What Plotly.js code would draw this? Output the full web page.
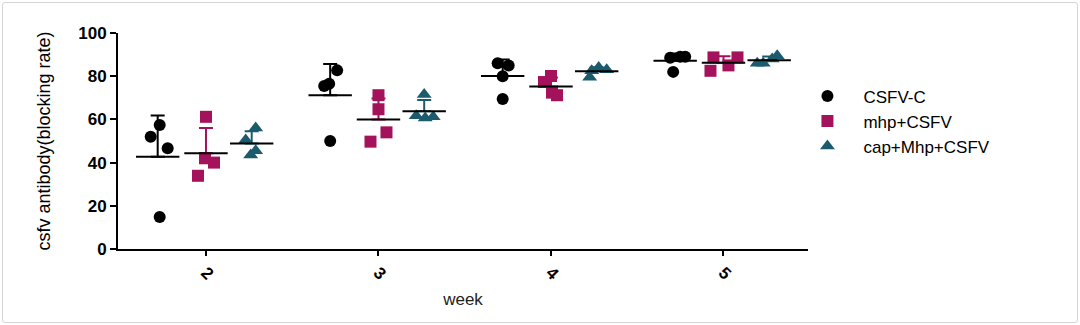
<!DOCTYPE html>
<html>
<head>
<meta charset="utf-8">
<script src="https://cdn.plot.ly/plotly-3.0.1.min.js"></script>
<style>
  html, body { margin: 0; padding: 0; background: #fff; }
  #wrap { position: relative; width: 1080px; height: 325px; }
  #chart { width: 1080px; height: 325px; }
  #frame { position: absolute; left: 2px; top: 2px; width: 1074px; height: 319px;
           border: 1px solid #d4d4d4; border-radius: 3px; pointer-events: none; }
</style>
</head>
<body>
<div id="wrap"><div id="chart"></div><div id="frame"></div></div>
<script>
// ---- data ----
const weeks = [2, 3, 4, 5];
const tickLabels = ["2", "3", "4", "5"];
const seriesNames = ["CSFV-C", "mhp+CSFV", "cap+Mhp+CSFV"];

// individual animals per week (blocking rate, %)
const csfvC      = [[57.4, 52.0, 46.6, 14.8], [82.7, 76.5, 75.5, 50.0], [86.0, 85.0, 80.0, 69.4], [88.5, 89.0, 89.0, 82.0]];
const mhpCSFV    = [[61.2, 42.0, 40.0, 33.9], [71.2, 64.7, 54.0, 49.7], [80.1, 77.3, 72.4, 71.2], [88.7, 88.7, 82.5, 85.0]];
const capMhpCSFV = [[56.0, 50.5, 43.5, 45.5], [71.5, 61.7, 60.7, 61.2], [84.0, 82.5, 83.0, 79.5], [86.0, 88.0, 89.5, 86.0]];

// ---- presentation (positions / styles) ----
const pxPerUnit = 172.5;
const groupOffset = [-0.28, 0, 0.265];
const jitterPx = [
  [[2, -7, 10, 2], [7, -1, -6, 0], [-5, 6, 0, 0], [-5, 5, 10, -2]],
  [[0, -1, 8, -8], [0, 0, 8, -8], [0, -7, 1, 6], [-10, 14, -13, 5]],
  [[4, -6, -1, 4], [0, -8, 1, 9], [2, -5, 10, -7], [-6, 3, 8, -12]]
];
const colors = ["#000000", "#A3125B", "#1B5B6E"];
const symbols = ["circle", "square", "triangle-up"];
const sizes = [12, 12, 13];

const allSeries = [csfvC, mhpCSFV, capMhpCSFV];

function mean(a) { return a.reduce((s, v) => s + v, 0) / a.length; }
function sd(a) { const m = mean(a); return Math.sqrt(a.reduce((s, v) => s + (v - m) * (v - m), 0) / (a.length - 1)); }

const traces = [];
allSeries.forEach((ser, si) => {
  const xs = [], ys = [];
  ser.forEach((vals, wi) => {
    vals.forEach((v, k) => {
      xs.push(weeks[wi] + groupOffset[si] + jitterPx[si][wi][k] / pxPerUnit);
      ys.push(v);
    });
  });
  traces.push({
    type: "scatter", mode: "markers", name: seriesNames[si],
    x: xs, y: ys,
    marker: { symbol: symbols[si], size: sizes[si], color: colors[si], line: { width: 0 } },
    hoverinfo: "x+y"
  });
});
allSeries.forEach((ser, si) => {
  traces.push({
    type: "scatter", mode: "markers", showlegend: false, hoverinfo: "skip",
    x: weeks.map(w => w + groupOffset[si]),
    y: ser.map(mean),
    marker: { symbol: "line-ew", size: 31, color: "#000", line: { width: 2, color: "#000" } },
    error_y: { type: "data", symmetric: false, array: ser.map(sd), arrayminus: ser.map(() => 0),
               color: colors[si], thickness: 2, width: 7 }
  });
});

const layout = {
  width: 1080, height: 325,
  margin: { l: 118, r: 272, t: 32.5, b: 75.5 },
  paper_bgcolor: "#fff", plot_bgcolor: "#fff",
  font: { family: "Liberation Sans, Arial, sans-serif", color: "#000" },
  showlegend: true,
  legend: { x: 0.976, xanchor: "left", y: 0.79, yanchor: "top", itemwidth: 62,
            font: { size: 17, color: "#000" }, tracegroupgap: 0, bgcolor: "rgba(0,0,0,0)" },
  xaxis: {
    range: [1.49, 5.49], tickmode: "array", tickvals: weeks, ticktext: tickLabels,
    tickangle: 45, ticks: "outside", ticklen: 5, tickwidth: 2, tickcolor: "#000",
    tickfont: { size: 17, weight: "bold", color: "#000" },
    showline: true, linecolor: "#000", linewidth: 2, showgrid: false, zeroline: false,
    title: { text: "week", font: { size: 17, color: "#222" }, standoff: 10 }
  },
  yaxis: {
    range: [0, 100], tickvals: [0, 20, 40, 60, 80, 100],
    ticks: "outside", ticklen: 6, tickwidth: 2, tickcolor: "#000",
    tickfont: { size: 17, weight: "bold", color: "#000" },
    showline: true, linecolor: "#000", linewidth: 2, showgrid: false, zeroline: false,
    title: { text: "csfv antibody(blocking rate)", font: { size: 18, color: "#000" }, standoff: 23 }
  }
};

Plotly.newPlot("chart", traces, layout, { displayModeBar: false, staticPlot: true });
</script>
</body>
</html>
